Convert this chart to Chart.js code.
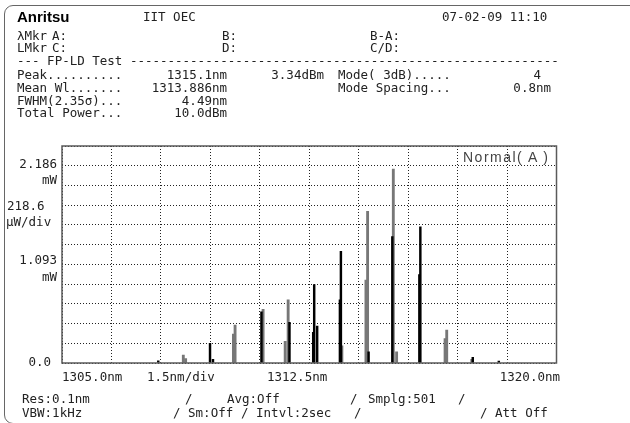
<!DOCTYPE html>
<html>
<head>
<meta charset="utf-8">
<script src="https://cdn.jsdelivr.net/npm/chart.js@4.4.1/dist/chart.umd.min.js"></script>
<style>
  html, body { margin: 0; padding: 0; background: #fff; }
  #screen { position: relative; width: 630px; height: 423px; overflow: hidden; background: #fff; }
  #frame { position: absolute; left: 4px; top: 5px; width: 700px; height: 417px; border: 1px solid #666; border-radius: 9px; }
  #graf { position: absolute; left: 0; top: 0; }
  .t { position: absolute; font-family: "DejaVu Sans Mono", monospace; font-size: 12.5px; line-height: 13px; color: #222; white-space: pre; transform: translateY(-50%); }
  .r { transform: translate(-100%, -50%); }
  .logo { font-family: "Liberation Sans", Arial, sans-serif; font-weight: bold; font-size: 15px; color: #000; }
  .normal { font-family: "Liberation Sans", Arial, sans-serif; font-size: 14px; letter-spacing: 1.5px; color: #444; }
</style>
</head>
<body>
<div id="screen">
  <div id="frame"></div>
  <canvas id="graf" width="630" height="423"></canvas>
</div>
<script>
// espectro FP-LD, longitudes de onda en nm y potencia en mW
const lineasNegrasWl = [1307.92, 1309.49, 1309.58, 1311.05, 1311.90, 1312.62, 1312.65, 1312.74, 1313.43, 1313.46, 1314.30, 1315.02, 1315.84, 1315.87, 1317.46, 1318.25];
const lineasNegrasPot = [0.025, 0.217, 0.04, 0.566, 0.45, 0.34, 0.87, 0.41, 0.70, 1.237, 0.125, 1.40, 0.98, 1.51, 0.063, 0.02];
const lineasGrisesWl = [1308.68, 1308.75, 1310.20, 1310.25, 1311.10, 1311.77, 1311.86, 1313.49, 1314.22, 1314.27, 1315.05, 1315.15, 1316.62, 1316.67, 1317.43];
const lineasGrisesPot = [0.088, 0.05, 0.32, 0.42, 0.596, 0.24, 0.70, 0.19, 0.92, 1.68, 2.15, 0.125, 0.27, 0.364, 0.04];

const divisionesX = [1305, 1306.5, 1308, 1309.5, 1311, 1312.5, 1314, 1315.5, 1317, 1318.5, 1320];
const divisionesY = [0, 0.2186, 0.4372, 0.6558, 0.8744, 1.093, 1.3116, 1.5302, 1.7488, 1.9674, 2.186, 2.4046];

const screen = document.getElementById("screen");

function texto(str, x, y, clase) {
  let el = document.createElement("div");
  el.className = "t" + (clase ? " " + clase : "");
  el.textContent = str;
  el.style.left = x + "px";
  el.style.top = y + "px";
  screen.appendChild(el);
  return el;
}

// cabecera
texto("Anritsu", 17, 16, "logo");
texto("IIT OEC", 143, 16);
texto("07-02-09 11:10", 442, 16);
texto("λMkr", 17, 35); texto("A:", 52, 35); texto("B:", 222, 35); texto("B-A:", 370, 35);
texto("LMkr", 17, 47); texto("C:", 52, 47); texto("D:", 222, 47); texto("C/D:", 370, 47);
texto("--- FP-LD Test ---------------------------------------------------------", 17, 60);
texto("Peak..........", 17, 74); texto("1315.1nm", 227, 74, "r"); texto("3.34dBm", 324, 74, "r");
texto("Mode( 3dB).....", 338, 74); texto("4", 541, 74, "r");
texto("Mean Wl.......", 17, 87); texto("1313.886nm", 227, 87, "r");
texto("Mode Spacing...", 338, 87); texto("0.8nm", 551, 87, "r");
texto("FWHM(2.35σ)...", 17, 100); texto("4.49nm", 227, 100, "r");
texto("Total Power...", 17, 112); texto("10.0dBm", 227, 112, "r");

// ejes
texto("2.186", 57, 163, "r"); texto("mW", 57, 179, "r");
texto("218.6", 7, 205); texto("µW/div", 6, 221);
texto("1.093", 57, 259, "r"); texto("mW", 57, 276, "r");
texto("0.0", 51, 361, "r");
texto("1305.0nm", 62, 376); texto("1.5nm/div", 147, 376);
texto("1312.5nm", 267, 376); texto("1320.0nm", 560, 376, "r");
texto("Normal( A )", 463, 157, "normal");

// pie
texto("Res:0.1nm", 22, 398); texto("/", 185, 398); texto("Avg:Off", 227, 398);
texto("/", 350, 398); texto("Smplg:501", 368, 398); texto("/", 458, 398);
texto("VBW:1kHz", 22, 412); texto("/ Sm:Off", 173, 412); texto("/ Intvl:2sec", 241, 412);
texto("/", 354, 412); texto("/ Att Off", 480, 412);

const marco = {
  id: "marco",
  afterDraw(chart) {
    const a = chart.chartArea;
    const ctx = chart.ctx;
    ctx.save();
    ctx.strokeStyle = "#5a5a5a";
    ctx.lineWidth = 1.5;
    ctx.strokeRect(a.left, a.top, a.right - a.left, a.bottom - a.top);
    ctx.restore();
  },
};

const canvas = document.getElementById("graf");

new Chart(canvas, {
  type: "bar",
  data: {
    datasets: [
      {
        label: "negro",
        data: lineasNegrasWl.map((wl, i) => ({ x: wl, y: lineasNegrasPot[i] })),
        backgroundColor: "#000",
        barThickness: 1.8,
        order: 0,
      },
      {
        label: "gris",
        data: lineasGrisesWl.map((wl, i) => ({ x: wl, y: lineasGrisesPot[i] })),
        backgroundColor: "#777",
        barThickness: 2.2,
        order: 1,
      },
    ],
  },
  options: {
    responsive: false,
    animation: false,
    grouped: false,
    layout: { padding: { left: 62, top: 146, right: 73.5, bottom: 60 } },
    plugins: {
      legend: { display: false },
      tooltip: { enabled: false },
    },
    scales: {
      x: {
        type: "linear",
        min: 1305,
        max: 1320,
        offset: false,
        afterBuildTicks: (eje) => { eje.ticks = divisionesX.map((v) => ({ value: v })); },
        afterFit: (eje) => { eje.height = 0; },
        ticks: { display: false },
        grid: { color: "#222", lineWidth: 1, drawTicks: false, offset: false },
        border: { display: false, dash: [1, 2] },
      },
      y: {
        min: 0,
        max: 2.4046,
        afterBuildTicks: (eje) => { eje.ticks = divisionesY.map((v) => ({ value: v })); },
        afterFit: (eje) => { eje.width = 0; },
        ticks: { display: false },
        grid: { color: "#222", lineWidth: 1, drawTicks: false },
        border: { display: false, dash: [1, 2] },
      },
    },
  },
  plugins: [marco],
});
</script>
</body>
</html>
